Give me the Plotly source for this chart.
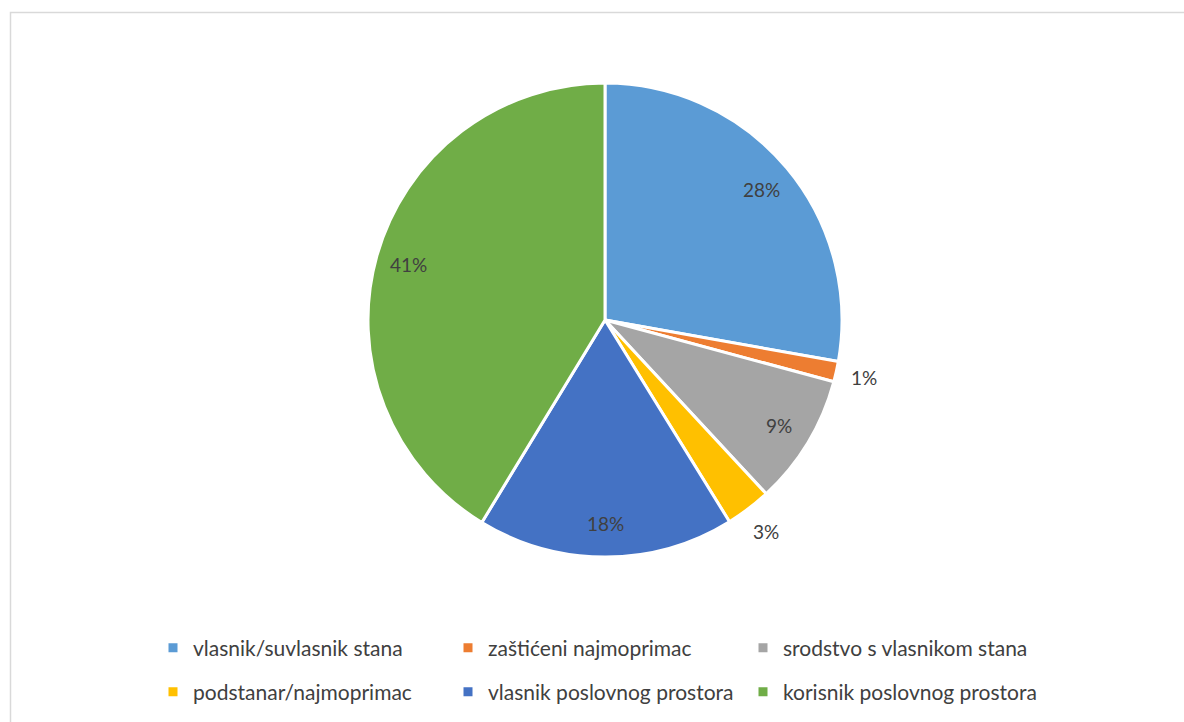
import numpy as np
import plotly.graph_objects as go

labels = ["vlasnik/suvlasnik stana", "zaštićeni najmoprimac", "srodstvo s vlasnikom stana",
          "podstanar/najmoprimac", "vlasnik poslovnog prostora", "korisnik poslovnog prostora"]
values = [27.8, 1.4, 8.9, 3.1, 17.5, 41.3]
colors = ["#5B9BD5", "#ED7D31", "#A5A5A5", "#FFC000", "#4472C4", "#70AD47"]
outside = [False, True, False, True, False, False]

W, H = 1184, 722
cx, cy, r = 605, 320, 237
TXT = "#404040"
FONT = "Lato"

fig = go.Figure()
fig.add_trace(go.Pie(
    labels=labels, values=values, sort=False, direction="clockwise", rotation=0,
    marker=dict(colors=colors, line=dict(color="white", width=3)),
    textinfo="none", showlegend=False,
    domain=dict(x=[(cx - r) / W, (cx + r) / W], y=[1 - (cy + r) / H, 1 - (cy - r) / H]),
    hoverinfo="label+percent",
))

# legend entries (two rows, as in the original)
for i, (lab, col) in enumerate(zip(labels, colors)):
    fig.add_trace(go.Scatter(
        x=[None], y=[None], mode="markers", name=lab,
        marker=dict(symbol="square", size=9, color=col),
        legend="legend" if i < 3 else "legend2", hoverinfo="skip",
    ))

# percentage labels placed at each slice's mid-angle
vals = np.array(values, dtype=float)
frac = vals / vals.sum()
mid = (np.cumsum(frac) - frac / 2) * 2 * np.pi
annotations = []
for f, a, out in zip(frac, mid, outside):
    rr = 1.12 * r if out else 0.86 * r
    px = cx + rr * np.sin(a)
    py = cy - rr * np.cos(a)
    annotations.append(dict(
        x=px / W, y=1 - py / H, xref="paper", yref="paper", showarrow=False,
        text=f"{round(f * 100):.0f}%", font=dict(size=19, color=TXT, family=FONT),
        xanchor="center", yanchor="middle",
    ))

leg_common = dict(orientation="h", xanchor="left", yanchor="middle",
                  entrywidth=250, entrywidthmode="pixels",
                  font=dict(size=21, color=TXT, family=FONT),
                  itemclick=False, itemdoubleclick=False, bgcolor="rgba(0,0,0,0)")

fig.update_layout(
    width=W, height=H, margin=dict(l=0, r=0, t=0, b=0),
    paper_bgcolor="white", plot_bgcolor="white",
    font=dict(family=FONT, color=TXT),
    xaxis=dict(visible=False), yaxis=dict(visible=False),
    legend=dict(x=153 / W, y=1 - 648 / H, **leg_common),
    legend2=dict(x=153 / W, y=1 - 692 / H, **leg_common),
    annotations=annotations,
    shapes=[dict(type="rect", xref="paper", yref="paper",
                 x0=10.5 / W, y0=-0.1, x1=1.1, y1=1 - 12.5 / H,
                 line=dict(color="#D9D9D9", width=1.5), fillcolor="rgba(0,0,0,0)")],
)

fig.write_html("out.html", config={"displayModeBar": False},
               post_script="document.body.style.margin='0px';")
